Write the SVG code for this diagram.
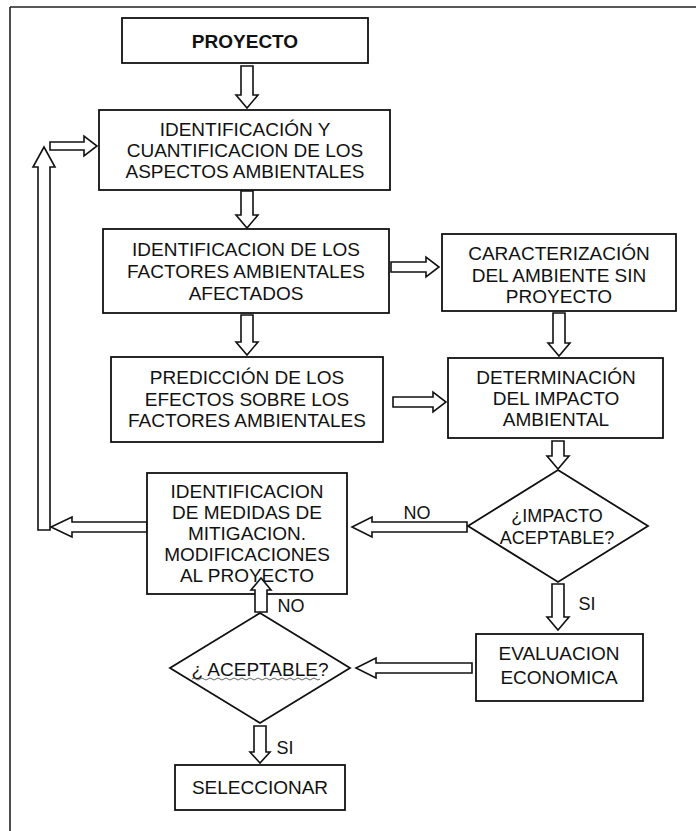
<svg xmlns="http://www.w3.org/2000/svg" width="696" height="831" viewBox="0 0 696 831">
<style>
.box{fill:#fff;stroke:#111;stroke-width:1.8}
.arr{fill:#fff;stroke:#111;stroke-width:1.6;stroke-linejoin:miter}
.frame{fill:none;stroke:#222;stroke-width:1.6}
text{font-family:"Liberation Sans",Arial,sans-serif;font-size:19px;fill:#111;text-anchor:middle}
.b{font-weight:bold}
.lbl{font-size:18px}
.dm{font-size:18px}
</style>
<rect width="696" height="831" fill="#fff"/>
<g id="frame">
<path class="frame" d="M10,7 H696 M10,7 V831"/>
</g>
<g id="connectors">
<path class="arr" d="M241,66 V95 H236 L247,108 L258,95 H253 V66 Z"/>
<path class="arr" d="M241,191 V215 H236 L247,228 L258,215 H253 V191 Z"/>
<path class="arr" d="M391,262 H426 V257 L439,267 L426,277 V272 H391 Z"/>
<path class="arr" d="M241,315 V342 H236 L247,355 L258,342 H253 V315 Z"/>
<path class="arr" d="M553,313 V343 H548 L559,356 L570,343 H565 V313 Z"/>
<path class="arr" d="M393,397 H433 V392 L446,402 L433,412 V407 H393 Z"/>
<path class="arr" d="M552,441 V456 H547 L558,469 L569,456 H564 V441 Z"/>
<path class="arr" d="M467,522 H372 V517 L352,527 L372,537 V532 H467 Z"/>
<path class="arr" d="M38,530 V167 H33 L44,147 L55,167 H50 V530 Z"/>
<path class="arr" d="M147,522 H72 V517 L51,527 L72,537 V532 H147 Z"/>
<path class="arr" d="M50,142 H84 V136 L97,146 L84,156 V150 H50 Z"/>
<path class="arr" d="M552,584 V617 H547 L558,630 L569,617 H564 V584 Z"/>
<path class="arr" d="M472,663 H376 V658 L356,668 L376,678 V673 H472 Z"/>
<path class="arr" d="M254,726 V752 H250 L260,763 L270,752 H266 V726 Z"/>
<text class="lbl" x="417" y="519">NO</text>
<text class="lbl" x="587" y="610">SI</text>
<text class="lbl" x="291" y="612">NO</text>
<text class="lbl" x="285" y="754">SI</text>
</g>
<g id="proyecto">
<rect class="box" x="122" y="18" width="246" height="45"/>
<text class="b" x="245" y="48">PROYECTO</text>
</g>
<g id="identificacion-aspectos">
<rect class="box" x="99" y="110" width="291" height="80"/>
<text x="245" y="136">IDENTIFICACIÓN Y</text>
<text x="245" y="157">CUANTIFICACION DE LOS</text>
<text x="245" y="178">ASPECTOS AMBIENTALES</text>
</g>
<g id="identificacion-factores">
<rect class="box" x="103" y="229" width="286" height="84"/>
<text x="246" y="256">IDENTIFICACION DE LOS</text>
<text x="246" y="278">FACTORES AMBIENTALES</text>
<text x="246" y="300">AFECTADOS</text>
</g>
<g id="caracterizacion">
<rect class="box" x="442" y="234" width="234" height="77"/>
<text x="559" y="260">CARACTERIZACIÓN</text>
<text x="559" y="282">DEL AMBIENTE SIN</text>
<text x="559" y="303">PROYECTO</text>
</g>
<g id="prediccion">
<rect class="box" x="111" y="357" width="272" height="85"/>
<text x="247" y="384">PREDICCIÓN DE LOS</text>
<text x="247" y="406">EFECTOS SOBRE LOS</text>
<text x="247" y="427">FACTORES AMBIENTALES</text>
</g>
<g id="determinacion">
<rect class="box" x="448" y="358" width="215" height="80"/>
<text x="556" y="384">DETERMINACIÓN</text>
<text x="556" y="405">DEL IMPACTO</text>
<text x="556" y="426">AMBIENTAL</text>
</g>
<g id="impacto-aceptable">
<path class="box" d="M558,470 L648,526 L558,582 L468,526 Z"/>
<text class="dm" x="557" y="522">¿IMPACTO</text>
<text class="dm" x="557" y="544">ACEPTABLE?</text>
</g>
<g id="mitigacion">
<rect class="box" x="147" y="473" width="200" height="121"/>
<text x="247" y="498">IDENTIFICACION</text>
<text x="247" y="519">DE MEDIDAS DE</text>
<text x="247" y="540">MITIGACION.</text>
<text x="247" y="561">MODIFICACIONES</text>
<text x="247" y="582">AL PROYECTO</text>
</g>
<g id="conn-no-up">
<path class="arr" d="M255,612 V590 H251 L261,578 L271,590 H267 V612 Z"/>
</g>
<g id="evaluacion">
<rect class="box" x="476" y="634" width="167" height="67"/>
<text x="559" y="660">EVALUACION</text>
<text x="559" y="684">ECONOMICA</text>
</g>
<g id="aceptable">
<path class="box" d="M260,613 L350,668 L260,723 L170,668 Z"/>
<text x="260" y="676">¿ ACEPTABLE?</text>
<path d="M192,679 q2,-2 4,0 t4,0 t4,0 t4,0 t4,0 t4,0 t4,0 t4,0 t4,0 t4,0 t4,0 t4,0 t4,0 t4,0 t4,0 t4,0 t4,0 t4,0 t4,0 t4,0 t4,0 t4,0 t4,0 t4,0 t4,0 t4,0 t4,0 t4,0 t4,0 t4,0 t4,0 t4,0" fill="none" stroke="#555" stroke-width="0.9"/>
</g>
<g id="seleccionar">
<rect class="box" x="175" y="765" width="170" height="45"/>
<text x="260" y="794">SELECCIONAR</text>
</g>
</svg>
